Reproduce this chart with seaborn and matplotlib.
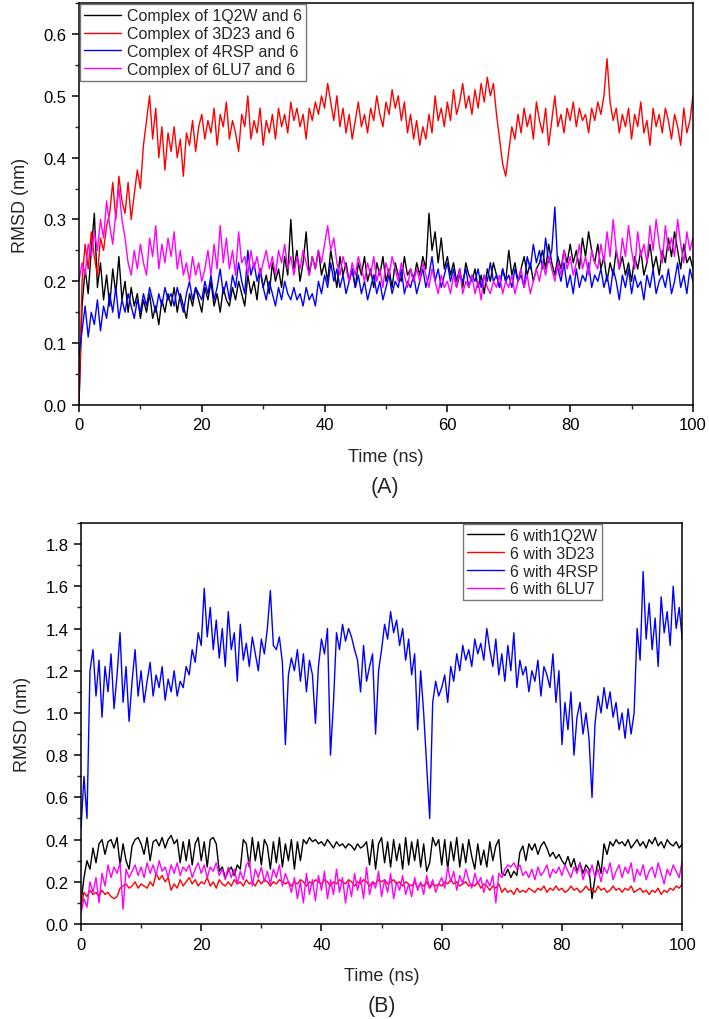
"""
RMSD traces of the four complexes, (A) protein backbone and (B) ligand 6.
Values read by eye from the published figure, one point per 0.5 ns.
"""

import numpy as np
import pandas as pd
import matplotlib
matplotlib.use("Agg")
import matplotlib.pyplot as plt
from matplotlib.ticker import MultipleLocator, FormatStrFormatter
import seaborn as sns

# ---------- panel A : complex RMSD (nm), 0..100 ns step 0.5 ----------
a_1q2w = [
    0.00, 0.16, 0.22, 0.18, 0.25, 0.31, 0.19, 0.23, 0.17, 0.21,
    0.16, 0.22, 0.18, 0.24, 0.17, 0.20, 0.15, 0.19, 0.16, 0.18,
    0.14, 0.17, 0.15, 0.18, 0.14, 0.16, 0.13, 0.17, 0.15, 0.18,
    0.16, 0.19, 0.15, 0.18, 0.16, 0.14, 0.18, 0.16, 0.19, 0.17,
    0.15, 0.19, 0.17, 0.20, 0.16, 0.18, 0.15, 0.19, 0.17, 0.16,
    0.19, 0.17, 0.20, 0.18, 0.16, 0.21, 0.18, 0.20, 0.17, 0.22,
    0.19, 0.21, 0.18, 0.23, 0.20, 0.22, 0.19, 0.24, 0.21, 0.30,
    0.22, 0.25, 0.20, 0.23, 0.28, 0.21, 0.24, 0.22, 0.25, 0.21,
    0.23, 0.20, 0.25, 0.22, 0.19, 0.24, 0.21, 0.23, 0.20, 0.22,
    0.19, 0.23, 0.21, 0.24, 0.20, 0.22, 0.19, 0.23, 0.21, 0.24,
    0.20, 0.22, 0.19, 0.23, 0.21, 0.20, 0.24, 0.21, 0.22, 0.20,
    0.23, 0.21, 0.24, 0.22, 0.31, 0.25, 0.28, 0.23, 0.27, 0.22,
    0.24, 0.21, 0.23, 0.20, 0.22, 0.19, 0.23, 0.21, 0.20, 0.22,
    0.19, 0.21, 0.18, 0.22, 0.20, 0.23, 0.21, 0.19, 0.22, 0.20,
    0.25, 0.21, 0.23, 0.20, 0.22, 0.24, 0.21, 0.23, 0.20, 0.22,
    0.23, 0.25, 0.22, 0.26, 0.23, 0.21, 0.24, 0.22, 0.25, 0.23,
    0.26, 0.23, 0.25, 0.22, 0.27, 0.24, 0.28, 0.25, 0.23, 0.26,
    0.22, 0.24, 0.20, 0.23, 0.21, 0.25, 0.22, 0.24, 0.21, 0.23,
    0.20, 0.24, 0.22, 0.25, 0.21, 0.23, 0.26, 0.22, 0.24, 0.21,
    0.25, 0.23, 0.27, 0.24, 0.28, 0.25, 0.22, 0.26, 0.23, 0.24,
    0.22,
]
a_3d23 = [
    0.00, 0.20, 0.26, 0.22, 0.28, 0.24, 0.21, 0.27, 0.25, 0.29,
    0.31, 0.36, 0.30, 0.37, 0.33, 0.31, 0.36, 0.30, 0.34, 0.38,
    0.35, 0.42, 0.46, 0.50, 0.43, 0.48, 0.40, 0.45, 0.38, 0.44,
    0.41, 0.45, 0.40, 0.43, 0.37, 0.44, 0.42, 0.46, 0.41, 0.45,
    0.47, 0.43, 0.46, 0.44, 0.48, 0.42, 0.47, 0.45, 0.49, 0.43,
    0.46, 0.44, 0.41, 0.47, 0.45, 0.50, 0.43, 0.46, 0.44, 0.48,
    0.42, 0.46, 0.44, 0.47, 0.43, 0.48, 0.45, 0.47, 0.44, 0.49,
    0.46, 0.48, 0.45, 0.47, 0.43, 0.48, 0.46, 0.49, 0.47, 0.50,
    0.48, 0.52, 0.49, 0.46, 0.50, 0.45, 0.48, 0.44, 0.47, 0.43,
    0.46, 0.49, 0.45, 0.47, 0.44, 0.48, 0.46, 0.50, 0.47, 0.45,
    0.49, 0.47, 0.51, 0.48, 0.50, 0.46, 0.49, 0.44, 0.47, 0.43,
    0.46, 0.42, 0.45, 0.43, 0.47, 0.44, 0.50, 0.46, 0.48, 0.45,
    0.49, 0.46, 0.51, 0.47, 0.49, 0.52, 0.48, 0.50, 0.47, 0.51,
    0.48, 0.52, 0.49, 0.53, 0.50, 0.52, 0.47, 0.43, 0.39, 0.37,
    0.41, 0.45, 0.43, 0.47, 0.44, 0.48, 0.45, 0.47, 0.43, 0.49,
    0.46, 0.44, 0.48, 0.42, 0.46, 0.50, 0.45, 0.47, 0.44, 0.48,
    0.46, 0.49, 0.45, 0.48, 0.46, 0.47, 0.44, 0.48, 0.46, 0.49,
    0.47, 0.50, 0.56, 0.49, 0.46, 0.48, 0.44, 0.47, 0.45, 0.48,
    0.43, 0.47, 0.45, 0.49, 0.44, 0.46, 0.42, 0.48, 0.45, 0.47,
    0.44, 0.48, 0.46, 0.43, 0.47, 0.45, 0.42, 0.48, 0.44, 0.46,
    0.50,
]
a_4rsp = [
    0.08, 0.12, 0.16, 0.11, 0.15, 0.13, 0.17, 0.12, 0.16, 0.14,
    0.18, 0.15, 0.19, 0.14, 0.17, 0.15, 0.18, 0.16, 0.14, 0.17,
    0.15, 0.18, 0.16, 0.19, 0.17, 0.15, 0.18, 0.16, 0.19, 0.17,
    0.18, 0.16, 0.19, 0.17, 0.15, 0.18, 0.20, 0.17, 0.19, 0.18,
    0.17, 0.20, 0.18, 0.21, 0.17, 0.19, 0.22, 0.18, 0.20, 0.17,
    0.21, 0.19, 0.23, 0.20, 0.18, 0.25, 0.21, 0.23, 0.20, 0.22,
    0.19, 0.17, 0.20, 0.18, 0.16, 0.19, 0.17, 0.20, 0.18, 0.17,
    0.19, 0.17, 0.18, 0.16, 0.19, 0.17, 0.18, 0.16, 0.20, 0.18,
    0.21, 0.19, 0.23, 0.20, 0.22, 0.19, 0.21, 0.18, 0.20, 0.22,
    0.19, 0.21, 0.18, 0.20, 0.17, 0.19, 0.21, 0.18, 0.20, 0.17,
    0.19, 0.21, 0.18, 0.20, 0.19, 0.22, 0.18, 0.20, 0.19, 0.21,
    0.18, 0.20, 0.22, 0.19, 0.21, 0.24, 0.20, 0.22, 0.19, 0.21,
    0.23, 0.20, 0.22, 0.19, 0.21, 0.20, 0.22, 0.19, 0.21, 0.20,
    0.22, 0.19, 0.21, 0.20, 0.23, 0.20, 0.21, 0.19, 0.22, 0.20,
    0.21, 0.19, 0.22, 0.20, 0.21, 0.19, 0.24, 0.22, 0.26, 0.23,
    0.25, 0.22, 0.27, 0.23, 0.25, 0.32, 0.22, 0.20, 0.23, 0.19,
    0.21, 0.18, 0.22, 0.19, 0.21, 0.20, 0.23, 0.19, 0.21, 0.20,
    0.22, 0.19, 0.21, 0.18, 0.22, 0.20, 0.17, 0.21, 0.19, 0.22,
    0.18, 0.21, 0.19, 0.20, 0.17, 0.21, 0.19, 0.22, 0.18, 0.20,
    0.21, 0.19, 0.22, 0.18, 0.20, 0.23, 0.19, 0.21, 0.18, 0.22,
    0.20,
]
a_6lu7 = [
    0.20, 0.23, 0.21, 0.26, 0.24, 0.28, 0.25, 0.30, 0.27, 0.33,
    0.29, 0.26, 0.31, 0.35, 0.30, 0.27, 0.23, 0.21, 0.25, 0.22,
    0.26, 0.23, 0.21, 0.27, 0.24, 0.29, 0.22, 0.26, 0.23, 0.27,
    0.24, 0.28, 0.22, 0.25, 0.21, 0.23, 0.20, 0.24, 0.21, 0.23,
    0.20, 0.22, 0.25, 0.21, 0.26, 0.22, 0.29, 0.23, 0.27, 0.22,
    0.25, 0.21, 0.28, 0.23, 0.24, 0.21, 0.25, 0.22, 0.24, 0.21,
    0.23, 0.25, 0.22, 0.24, 0.21, 0.25, 0.23, 0.26, 0.22, 0.24,
    0.21, 0.24, 0.22, 0.25, 0.23, 0.21, 0.24, 0.22, 0.25, 0.23,
    0.26, 0.29, 0.25, 0.27, 0.23, 0.21, 0.24, 0.22, 0.20, 0.23,
    0.21, 0.24, 0.22, 0.20, 0.23, 0.21, 0.24, 0.20, 0.22, 0.19,
    0.23, 0.21, 0.24, 0.22, 0.20, 0.23, 0.21, 0.19, 0.22, 0.20,
    0.22, 0.20, 0.23, 0.21, 0.19, 0.22, 0.20, 0.18, 0.21, 0.19,
    0.20, 0.18, 0.21, 0.19, 0.22, 0.18, 0.20, 0.19, 0.21, 0.18,
    0.20, 0.17, 0.21, 0.19, 0.18, 0.20, 0.19, 0.21, 0.18, 0.20,
    0.19, 0.21, 0.18, 0.20, 0.22, 0.19, 0.21, 0.18, 0.20, 0.22,
    0.20, 0.23, 0.21, 0.24, 0.22, 0.20, 0.23, 0.21, 0.25, 0.22,
    0.24, 0.21, 0.23, 0.26, 0.22, 0.24, 0.21, 0.25, 0.23, 0.22,
    0.26, 0.23, 0.28, 0.24, 0.30, 0.25, 0.22, 0.27, 0.24, 0.29,
    0.25, 0.22, 0.28, 0.24, 0.26, 0.23, 0.29, 0.25, 0.30, 0.26,
    0.23, 0.29, 0.25, 0.27, 0.24, 0.30, 0.26, 0.23, 0.28, 0.25,
    0.27,
]

# ---------- panel B : ligand RMSD (nm), 0..100 ns step 0.5 ----------
b_1q2w = [
    0.10, 0.22, 0.30, 0.26, 0.36, 0.29, 0.38, 0.40, 0.33, 0.39,
    0.40, 0.36, 0.41, 0.28, 0.38, 0.30, 0.26, 0.37, 0.40, 0.41,
    0.38, 0.33, 0.41, 0.30, 0.39, 0.40, 0.37, 0.41, 0.36, 0.40,
    0.42, 0.38, 0.40, 0.29, 0.39, 0.30, 0.40, 0.28, 0.38, 0.41,
    0.30, 0.39, 0.27, 0.40, 0.41, 0.38, 0.25, 0.27, 0.22, 0.25,
    0.27, 0.23, 0.28, 0.26, 0.40, 0.38, 0.27, 0.41, 0.30, 0.39,
    0.28, 0.40, 0.37, 0.26, 0.39, 0.29, 0.41, 0.27, 0.38, 0.30,
    0.40, 0.26, 0.39, 0.30, 0.40, 0.38, 0.41, 0.39, 0.40, 0.38,
    0.39, 0.37, 0.40, 0.38, 0.36, 0.39, 0.37, 0.38, 0.36, 0.38,
    0.37, 0.35, 0.38, 0.36, 0.37, 0.39, 0.28, 0.40, 0.26, 0.38,
    0.41, 0.29, 0.39, 0.27, 0.40, 0.30, 0.38, 0.26, 0.41, 0.28,
    0.39, 0.30, 0.40, 0.27, 0.38, 0.25, 0.29, 0.41, 0.37, 0.40,
    0.28, 0.40, 0.26, 0.39, 0.30, 0.41, 0.27, 0.38, 0.29, 0.40,
    0.32, 0.26, 0.38, 0.28, 0.35, 0.27, 0.39, 0.30, 0.37, 0.40,
    0.24, 0.23, 0.26, 0.22, 0.25, 0.23, 0.34, 0.37, 0.30, 0.38,
    0.35, 0.38, 0.33, 0.37, 0.39, 0.36, 0.32, 0.34, 0.31, 0.33,
    0.30, 0.28, 0.32, 0.27, 0.31, 0.25, 0.29, 0.24, 0.28, 0.26,
    0.12, 0.22, 0.30, 0.24, 0.38, 0.33, 0.39, 0.37, 0.40, 0.38,
    0.39, 0.37, 0.40, 0.36, 0.38, 0.40, 0.37, 0.39, 0.36, 0.40,
    0.38, 0.41, 0.37, 0.39, 0.36, 0.40, 0.38, 0.37, 0.39, 0.36,
    0.38,
]
b_3d23 = [
    0.08, 0.15, 0.13, 0.16, 0.14, 0.15, 0.13, 0.16, 0.14, 0.15,
    0.13, 0.12, 0.13, 0.17, 0.18, 0.19, 0.17, 0.18, 0.20, 0.17,
    0.19, 0.18, 0.17, 0.20, 0.18, 0.24, 0.21, 0.23, 0.20, 0.22,
    0.16, 0.19, 0.17, 0.21, 0.18, 0.20, 0.22, 0.19, 0.21, 0.18,
    0.20, 0.19, 0.22, 0.18, 0.20, 0.17, 0.21, 0.19, 0.18, 0.20,
    0.18, 0.21, 0.19, 0.20, 0.18, 0.21, 0.19, 0.20, 0.18, 0.21,
    0.19, 0.21, 0.20, 0.18, 0.20, 0.19, 0.21, 0.20, 0.19, 0.20,
    0.18, 0.20, 0.19, 0.21, 0.20, 0.18, 0.20, 0.19, 0.21, 0.20,
    0.19, 0.21, 0.20, 0.18, 0.20, 0.19, 0.21, 0.20, 0.19, 0.21,
    0.20, 0.18, 0.20, 0.19, 0.21, 0.20, 0.18, 0.20, 0.19, 0.21,
    0.20, 0.21, 0.19, 0.20, 0.21, 0.19, 0.20, 0.18, 0.20, 0.19,
    0.18, 0.20, 0.17, 0.19, 0.18, 0.20, 0.17, 0.19, 0.18, 0.19,
    0.18, 0.20, 0.19, 0.21, 0.19, 0.20, 0.18, 0.19, 0.20, 0.18,
    0.19, 0.18, 0.20, 0.17, 0.19, 0.18, 0.16, 0.18, 0.17, 0.19,
    0.15, 0.17, 0.15, 0.16, 0.14, 0.17, 0.15, 0.16, 0.15, 0.17,
    0.16, 0.15, 0.17, 0.16, 0.18, 0.15, 0.17, 0.16, 0.18, 0.16,
    0.17, 0.15, 0.16, 0.18, 0.16, 0.17, 0.15, 0.16, 0.18, 0.16,
    0.17, 0.15, 0.18, 0.16, 0.17, 0.15, 0.16, 0.18, 0.16, 0.17,
    0.15, 0.17, 0.16, 0.18, 0.15, 0.16, 0.17, 0.15, 0.16, 0.14,
    0.16, 0.15, 0.17, 0.14, 0.16, 0.15, 0.17, 0.16, 0.18, 0.17,
    0.19,
]
b_4rsp = [
    0.45, 0.70, 0.50, 1.20, 1.30, 1.08, 1.25, 0.98, 1.22, 1.10,
    1.28, 1.02, 1.18, 1.38, 1.05, 1.22, 0.96, 1.15, 1.30, 1.08,
    1.20, 1.05, 1.15, 1.24, 1.08, 1.18, 1.12, 1.22, 1.06, 1.16,
    1.10, 1.20, 1.08, 1.15, 1.12, 1.22, 1.18, 1.30, 1.24, 1.38,
    1.32, 1.59, 1.36, 1.50, 1.30, 1.44, 1.26, 1.40, 1.22, 1.48,
    1.30, 1.38, 1.15, 1.42, 1.25, 1.33, 1.22, 1.36, 1.28, 1.20,
    1.35, 1.28, 1.40, 1.58, 1.32, 1.30, 1.36, 1.24, 0.85, 1.18,
    1.26, 1.20, 1.30, 1.15, 1.28, 1.10, 1.25, 1.18, 0.95, 1.22,
    1.35, 1.28, 1.40, 0.80, 1.05, 1.38, 1.30, 1.42, 1.34, 1.40,
    1.36, 1.30, 1.25, 1.10, 1.32, 1.15, 1.22, 1.28, 0.90, 1.20,
    1.30, 1.42, 1.35, 1.48, 1.38, 1.44, 1.32, 1.40, 1.25, 1.35,
    1.18, 1.28, 0.92, 1.20, 1.00, 0.75, 0.50, 1.05, 1.15, 1.08,
    1.12, 1.18, 1.05, 1.22, 1.15, 1.28, 1.20, 1.32, 1.25, 1.30,
    1.22, 1.35, 1.28, 1.33, 1.25, 1.40, 1.30, 1.22, 1.35, 1.18,
    1.28, 1.15, 1.32, 1.20, 1.38, 1.12, 1.25, 1.18, 1.22, 1.10,
    1.20, 1.15, 1.25, 1.08, 1.22, 1.18, 1.12, 1.28, 1.05, 1.20,
    0.85, 1.05, 0.92, 1.10, 0.80, 0.98, 1.05, 0.90, 1.00, 0.88,
    0.60, 0.95, 1.08, 1.00, 1.12, 1.02, 1.10, 0.98, 1.05, 0.92,
    1.00, 0.88, 1.02, 0.90, 1.00, 1.40, 1.25, 1.67, 1.35, 1.52,
    1.30, 1.45, 1.22, 1.55, 1.38, 1.48, 1.32, 1.60, 1.40, 1.50,
    1.35,
]
b_6lu7 = [
    0.05, 0.12, 0.08, 0.20, 0.15, 0.22, 0.10, 0.24, 0.18, 0.28,
    0.22, 0.27, 0.24, 0.29, 0.07, 0.26, 0.22, 0.25, 0.28, 0.23,
    0.27, 0.22, 0.29, 0.24, 0.28, 0.23, 0.30, 0.25, 0.27, 0.22,
    0.28, 0.24, 0.29, 0.23, 0.27, 0.25, 0.28, 0.22, 0.26, 0.29,
    0.24, 0.28, 0.22, 0.27, 0.25, 0.29, 0.23, 0.26, 0.21, 0.27,
    0.22, 0.26, 0.19, 0.25, 0.21, 0.28, 0.30, 0.18, 0.26, 0.22,
    0.27, 0.20, 0.25, 0.19, 0.26, 0.22, 0.28, 0.18, 0.24, 0.20,
    0.15, 0.22, 0.12, 0.20, 0.10, 0.24, 0.14, 0.21, 0.11, 0.23,
    0.16, 0.25, 0.12, 0.21, 0.14, 0.26, 0.15, 0.22, 0.10, 0.20,
    0.13, 0.24, 0.16, 0.22, 0.12, 0.27, 0.14, 0.20, 0.17, 0.25,
    0.13, 0.21, 0.15, 0.24, 0.12, 0.20, 0.16, 0.23, 0.14, 0.19,
    0.13, 0.22, 0.16, 0.20, 0.14, 0.23, 0.17, 0.21, 0.15, 0.19,
    0.22, 0.17, 0.27, 0.20, 0.25, 0.16, 0.23, 0.19, 0.26, 0.21,
    0.17, 0.24, 0.19, 0.22, 0.15, 0.21, 0.18, 0.23, 0.10, 0.24,
    0.22, 0.26, 0.28, 0.27, 0.29, 0.26, 0.28, 0.23, 0.25, 0.22,
    0.26, 0.21, 0.27, 0.23, 0.25, 0.28, 0.22, 0.26, 0.24, 0.27,
    0.23, 0.28, 0.25, 0.22, 0.27, 0.24, 0.29, 0.21, 0.26, 0.23,
    0.28, 0.22, 0.26, 0.20, 0.27, 0.24, 0.29, 0.21, 0.25, 0.28,
    0.22, 0.27, 0.24, 0.29, 0.20, 0.26, 0.23, 0.28, 0.21, 0.25,
    0.27, 0.22, 0.29, 0.24, 0.19, 0.26, 0.23, 0.28, 0.25, 0.22,
    0.30,
]

labels_a = ["Complex of 1Q2W and 6", "Complex of 3D23 and 6",
            "Complex of 4RSP and 6", "Complex of 6LU7 and 6"]
labels_b = ["6 with1Q2W", "6 with 3D23", "6 with 4RSP", "6 with 6LU7"]
colors = ["#000000", "#ff0000", "#0000ff", "#ff00ff"]

sns.set_theme(style="ticks")
plt.rcParams["font.family"] = ["Liberation Sans", "DejaVu Sans"]


def long_frame(series, labels):
    parts = []
    for vals, lab in zip(series, labels):
        t = np.linspace(0, 100, len(vals))
        parts.append(pd.DataFrame({"Time": t, "RMSD": vals, "System": lab}))
    return pd.concat(parts, ignore_index=True)


df_a = long_frame([a_1q2w, a_3d23, a_4rsp, a_6lu7], labels_a)
df_b = long_frame([b_1q2w, b_3d23, b_4rsp, b_6lu7], labels_b)

fig = plt.figure(figsize=(7.09, 10.2), dpi=100)
ax_a = fig.add_axes([0.1114, 0.602, 0.866, 0.394])
ax_b = fig.add_axes([0.1142, 0.0931, 0.848, 0.3932])


def style_axis(ax, df, labels, ymax, ymajor, yminor):
    sns.lineplot(data=df, x="Time", y="RMSD", hue="System", hue_order=labels,
                 palette=colors, linewidth=1.0, estimator=None, sort=False, ax=ax)
    ax.set_xlim(0, 100)
    ax.set_ylim(0, ymax)
    ax.xaxis.set_major_locator(MultipleLocator(20))
    ax.xaxis.set_minor_locator(MultipleLocator(10))
    ax.yaxis.set_major_locator(MultipleLocator(ymajor))
    ax.yaxis.set_minor_locator(MultipleLocator(yminor))
    ax.yaxis.set_major_formatter(FormatStrFormatter("%.1f"))
    ax.tick_params(which="major", direction="out", length=5, width=1.1,
                   labelsize=12, pad=4, colors="black")
    ax.tick_params(which="minor", direction="out", length=3, width=1.0)
    for sp in ax.spines.values():
        sp.set_linewidth(1.1)
        sp.set_color("black")
    ax.set_xlabel("Time (ns)", fontsize=13, labelpad=11)
    ax.set_ylabel("RMSD (nm)", fontsize=13, labelpad=10)


style_axis(ax_a, df_a, labels_a, 0.65, 0.1, 0.05)
style_axis(ax_b, df_b, labels_b, 1.9, 0.2, 0.1)

for ax, labels, loc, anchor in [
    (ax_a, labels_a, "upper left", (0.002, 0.997)),
    (ax_b, labels_b, "upper right", (0.8665, 0.998)),
]:
    handles, _ = ax.get_legend_handles_labels()
    leg = ax.legend(handles, labels, loc=loc, bbox_to_anchor=anchor,
                    fontsize=11.5, frameon=True, fancybox=False,
                    borderpad=0.25, labelspacing=0.18, handlelength=2.3,
                    handletextpad=0.35, borderaxespad=0.0)
    leg.get_frame().set_edgecolor("#555555")
    leg.get_frame().set_linewidth(1.0)
    for line in leg.get_lines():
        line.set_linewidth(1.0)

fig.text(385 / 709, 1 - 487 / 1020, "(A)", ha="center", va="center", fontsize=15.5)
fig.text(382 / 709, 1 - 1007 / 1020, "(B)", ha="center", va="center", fontsize=15.5)

fig.savefig("out.png", dpi=100)
plt.close(fig)
